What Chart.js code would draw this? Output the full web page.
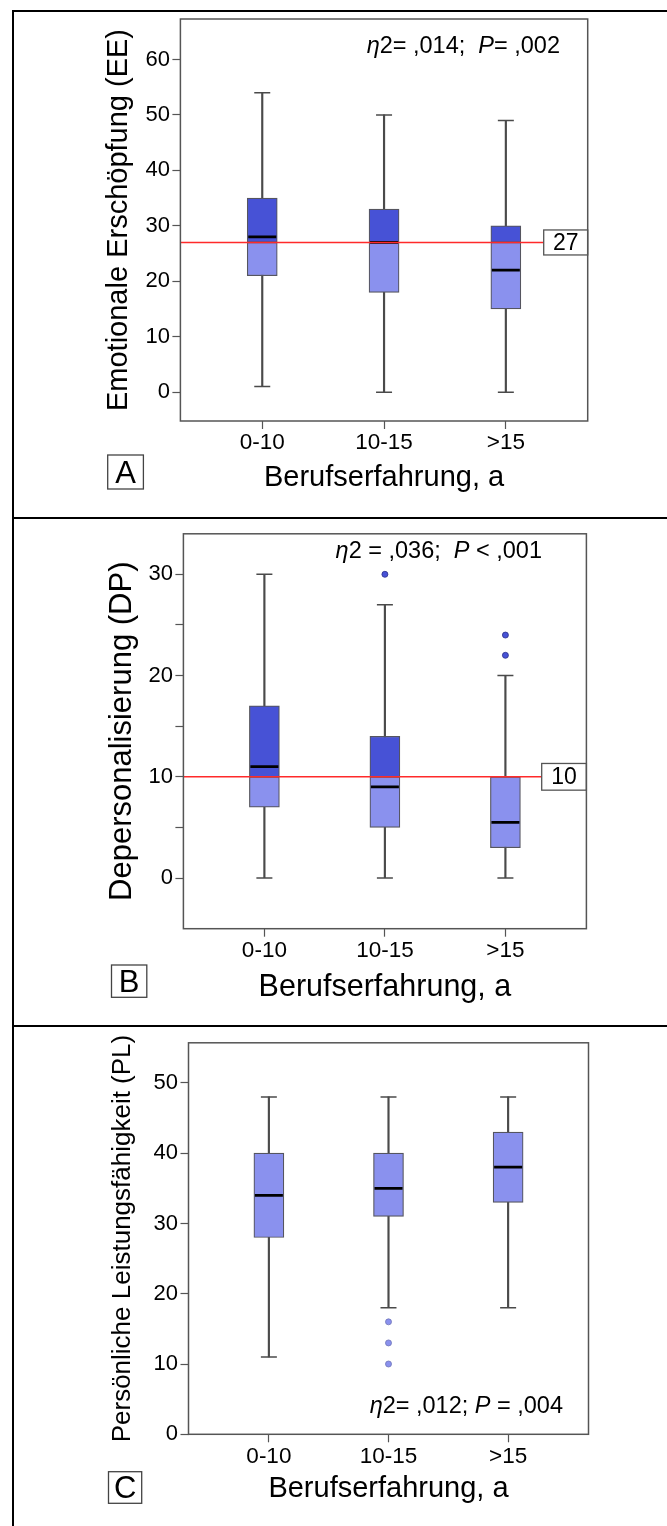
<!DOCTYPE html>
<html>
<head>
<meta charset="utf-8">
<script src="https://cdn.jsdelivr.net/npm/chart.js@4.4.0/dist/chart.umd.min.js"></script>
<style>
  body { margin: 0; background: #fff; }
  #page { position: relative; width: 667px; height: 1526px; overflow: hidden; background: #fff; }
  #page canvas { position: absolute; left: 0; }
  .rule { position: absolute; background: #000; z-index: 2; }
</style>
</head>
<body>
<div id="page">
  <canvas id="chartA" width="667" height="517" style="top:0px"></canvas>
  <canvas id="chartB" width="667" height="509" style="top:517px"></canvas>
  <canvas id="chartC" width="667" height="500" style="top:1026px"></canvas>
  <div class="rule" style="left:12px;top:10px;width:655px;height:2px"></div>
  <div class="rule" style="left:12px;top:10px;width:2px;height:1516px"></div>
  <div class="rule" style="left:12px;top:517px;width:655px;height:2px"></div>
  <div class="rule" style="left:12px;top:1025px;width:655px;height:2px"></div>
</div>
<script>
const categories = ['0-10', '10-15', '>15'];

// A: Emotionale Erschöpfung
const eeMin = [1, 0, 0];
const eeQ1 = [21, 18, 15];
const eeMedian = [28, 27, 22];
const eeQ3 = [35, 33, 30];
const eeMax = [54, 50, 49];
const eeOutliers = [[], [], []];
const eeCutoff = 27;
const eeTicks = [0, 10, 20, 30, 40, 50, 60];
const eeTickLabels = ['0', '10', '20', '30', '40', '50', '60'];

// B: Depersonalisierung
const dpMin = [0, 0, 0];
const dpQ1 = [7, 5, 3];
const dpMedian = [11, 9, 5.5];
const dpQ3 = [17, 14, 10];
const dpMax = [30, 27, 20];
const dpOutliers = [[], [30], [24, 22]];
const dpCutoff = 10;
const dpTicks = [0, 5, 10, 15, 20, 25, 30];
const dpTickLabels = ['0', '', '10', '', '20', '', '30'];

// C: Persönliche Leistungsfähigkeit
const plMin = [11, 18, 18];
const plQ1 = [28, 31, 33];
const plMedian = [34, 35, 38];
const plQ3 = [40, 40, 43];
const plMax = [48, 48, 48];
const plOutliers = [[], [16, 13, 10], []];
const plCutoff = null;
const plTicks = [0, 10, 20, 30, 40, 50];
const plTickLabels = ['0', '10', '20', '30', '40', '50'];

const FONT = "'Liberation Sans', Arial, sans-serif";
const DARK = '#4752d6';
const LIGHT = '#8a91ee';
const EDGE = '#55555f';

// draws frame, cutoff line, eta/P note and panel letter
const decor = {
  id: 'decor',
  afterDatasetsDraw(chart, args, o) {
    const ctx = chart.ctx, ca = chart.chartArea;
    if (o.cutoff != null) {
      const y = chart.scales.y.getPixelForValue(o.cutoff);
      ctx.save();
      ctx.strokeStyle = '#ff2a2a';
      ctx.lineWidth = 1.5;
      ctx.beginPath();
      ctx.moveTo(ca.left, y);
      ctx.lineTo(ca.right - o.boxW, y);
      ctx.stroke();
      ctx.fillStyle = '#fff';
      ctx.fillRect(ca.right - o.boxW, y - o.boxH / 2, o.boxW, o.boxH);
      ctx.strokeStyle = '#555';
      ctx.lineWidth = 1.3;
      ctx.strokeRect(ca.right - o.boxW, y - o.boxH / 2, o.boxW, o.boxH);
      ctx.fillStyle = '#000';
      ctx.font = '23px ' + FONT;
      ctx.textAlign = 'center';
      ctx.textBaseline = 'middle';
      ctx.fillText(String(o.cutoff), ca.right - o.boxW / 2, y + 1);
      ctx.restore();
    }
  },
  afterDraw(chart, args, o) {
    const ctx = chart.ctx, ca = chart.chartArea;
    ctx.save();
    ctx.strokeStyle = '#555';
    ctx.lineWidth = 1.5;
    ctx.strokeRect(ca.left, ca.top, ca.right - ca.left, ca.bottom - ca.top);

    // note
    ctx.textBaseline = 'middle';
    ctx.fillStyle = '#000';
    let w = 0;
    o.note.forEach(s => {
      ctx.font = (s.i ? 'italic ' : '') + o.noteSize + 'px ' + FONT;
      w += ctx.measureText(s.t).width;
    });
    let x = o.noteRight - w;
    o.note.forEach(s => {
      ctx.font = (s.i ? 'italic ' : '') + o.noteSize + 'px ' + FONT;
      ctx.fillText(s.t, x, o.noteY);
      x += ctx.measureText(s.t).width;
    });

    // letter
    const L = o.letter;
    ctx.lineWidth = 1.3;
    ctx.strokeStyle = '#444';
    ctx.strokeRect(L.x, L.y, L.w, L.h);
    ctx.fillStyle = '#000';
    ctx.font = '31px ' + FONT;
    ctx.textAlign = 'center';
    ctx.fillText(L.t, L.x + L.w / 2, L.y + L.h / 2 + 2);
    ctx.restore();
  }
};

function makePanel(id, p) {
  const whiskers = [], light = [], dark = [], caps = [], medians = [], outs = [];
  categories.forEach((c, i) => {
    whiskers.push({x: i, y: [p.min[i], p.max[i]]});
    if (p.cutoff != null && p.q3[i] > p.cutoff) {
      light.push({x: i, y: [p.q1[i], Math.max(p.q1[i], p.cutoff)]});
      dark.push({x: i, y: [Math.max(p.q1[i], p.cutoff), p.q3[i]]});
    } else {
      light.push({x: i, y: [p.q1[i], p.q3[i]]});
    }
    caps.push({x: i, y: p.min[i]}, {x: i, y: p.max[i]});
    medians.push({x: i, y: p.median[i]});
    p.outliers[i].forEach(v => outs.push({x: i, y: v}));
  });
  const above = v => p.cutoff != null && v > p.cutoff;

  new Chart(document.getElementById(id), {
    type: 'bar',
    data: {
      datasets: [
        { type: 'line', showLine: false, data: outs, order: 1,
          pointStyle: 'circle', pointRadius: 3,
          pointBackgroundColor: ctx => above(ctx.raw ? ctx.raw.y : 0) ? DARK : LIGHT,
          pointBorderColor: ctx => above(ctx.raw ? ctx.raw.y : 0) ? '#2a2f8a' : '#7075b8',
          pointBorderWidth: 0.8 },
        { type: 'line', showLine: false, data: medians, order: 2,
          pointStyle: 'line', pointRadius: 14, pointBorderWidth: 2.8, pointBorderColor: '#000' },
        { type: 'line', showLine: false, data: caps, order: 3,
          pointStyle: 'line', pointRadius: 8, pointBorderWidth: 1.5, pointBorderColor: '#4a4a4a' },
        { data: dark, order: 4, backgroundColor: DARK, borderColor: EDGE, borderWidth: 1.2,
          borderSkipped: false, barThickness: 30, grouped: false },
        { data: light, order: 5, backgroundColor: LIGHT, borderColor: EDGE, borderWidth: 1.2,
          borderSkipped: false, barThickness: 30, grouped: false },
        { data: whiskers, order: 6, backgroundColor: '#4a4a4a', borderWidth: 0,
          barThickness: 1.5, grouped: false }
      ]
    },
    options: {
      responsive: false,
      animation: false,
      events: [],
      layout: { padding: { left: 0, top: p.top, right: p.right, bottom: 0 } },
      plugins: {
        legend: { display: false },
        tooltip: { enabled: false },
        decor: p.decor
      },
      scales: {
        x: {
          type: 'linear', min: -0.672, max: 2.672, offset: false,
          afterBuildTicks: ax => { ax.ticks = categories.map((c, i) => ({value: i})); },
          afterFit: ax => { ax.height = p.xHeight; },
          ticks: { callback: v => categories[v], autoSkip: false, maxRotation: 0,
                   color: '#000', padding: 3, font: { family: FONT, size: 22.5, lineHeight: 1 } },
          grid: { offset: false, drawOnChartArea: false, drawTicks: true, tickLength: 8, tickColor: '#555', tickWidth: 1.2 },
          border: { display: false },
          title: { display: true, text: 'Berufserfahrung, a', color: '#000',
                   font: { family: FONT, size: p.xTitleSize, lineHeight: 1 },
                   padding: { top: 0, bottom: p.xTitlePad } }
        },
        y: {
          type: 'linear', min: p.yMin, max: p.yMax,
          afterBuildTicks: ax => { ax.ticks = p.ticks.map(v => ({value: v})); },
          afterFit: ax => { ax.width = p.yWidth; },
          ticks: { callback: (v, i) => p.tickLabels[i], autoSkip: false,
                   color: '#000', padding: 2.5, font: { family: FONT, size: 22, lineHeight: 1 } },
          grid: { drawOnChartArea: false, drawTicks: true, tickLength: 8, tickColor: '#555', tickWidth: 1.2 },
          border: { display: false },
          title: { display: true, text: p.yTitle, color: '#000',
                   font: { family: FONT, size: p.yTitleSize, lineHeight: 1 },
                   padding: { top: p.yTitlePad, bottom: 0 } }
        }
      }
    },
    plugins: [decor]
  });
}

makePanel('chartA', {
  min: eeMin, q1: eeQ1, median: eeMedian, q3: eeQ3, max: eeMax, outliers: eeOutliers,
  cutoff: eeCutoff, ticks: eeTicks, tickLabels: eeTickLabels,
  yMin: -5.2, yMax: 67.3, top: 19, right: 79.3, yWidth: 180.4, xHeight: 96,
  yTitle: 'Emotionale Erschöpfung (EE)', yTitleSize: 29, yTitlePad: 104,
  xTitleSize: 29, xTitlePad: 25,
  decor: {
    cutoff: eeCutoff, boxW: 44, boxH: 25,
    note: [{t: 'η', i: true}, {t: '2= ,014;  ', i: false}, {t: 'P', i: true}, {t: '= ,002', i: false}],
    noteSize: 23.5, noteRight: 560, noteY: 46.7,
    letter: {t: 'A', x: 107.7, y: 455, w: 35.7, h: 34}
  }
});

makePanel('chartB', {
  min: dpMin, q1: dpQ1, median: dpMedian, q3: dpQ3, max: dpMax, outliers: dpOutliers,
  cutoff: dpCutoff, ticks: dpTicks, tickLabels: dpTickLabels,
  yMin: -5, yMax: 34, top: 10.3, right: 80.6, yWidth: 183.4, xHeight: 97.3,
  yTitle: 'Depersonalisierung (DP)', yTitleSize: 31, yTitlePad: 106.7,
  xTitleSize: 30.5, xTitlePad: 23,
  decor: {
    cutoff: dpCutoff, boxW: 44.7, boxH: 26.7,
    note: [{t: 'η', i: true}, {t: '2 = ,036;  ', i: false}, {t: 'P', i: true}, {t: ' < ,001', i: false}],
    noteSize: 23.5, noteRight: 542, noteY: 34.7,
    letter: {t: 'B', x: 111.5, y: 448, w: 35.3, h: 32.3}
  }
});

makePanel('chartC', {
  min: plMin, q1: plQ1, median: plMedian, q3: plQ3, max: plMax, outliers: plOutliers,
  cutoff: plCutoff, ticks: plTicks, tickLabels: plTickLabels,
  yMin: 0, yMax: 55.7, top: 9, right: 78.5, yWidth: 188.5, xHeight: 91.7,
  yTitle: 'Persönliche Leistungsfähigkeit (PL)', yTitleSize: 26, yTitlePad: 110,
  xTitleSize: 29, xTitlePad: 23,
  decor: {
    cutoff: null,
    note: [{t: 'η', i: true}, {t: '2= ,012; ', i: false}, {t: 'P', i: true}, {t: ' = ,004', i: false}],
    noteSize: 23.5, noteRight: 563, noteY: 380.7,
    letter: {t: 'C', x: 108.5, y: 445.7, w: 33.2, h: 31.6}
  }
});
</script>
</body>
</html>
